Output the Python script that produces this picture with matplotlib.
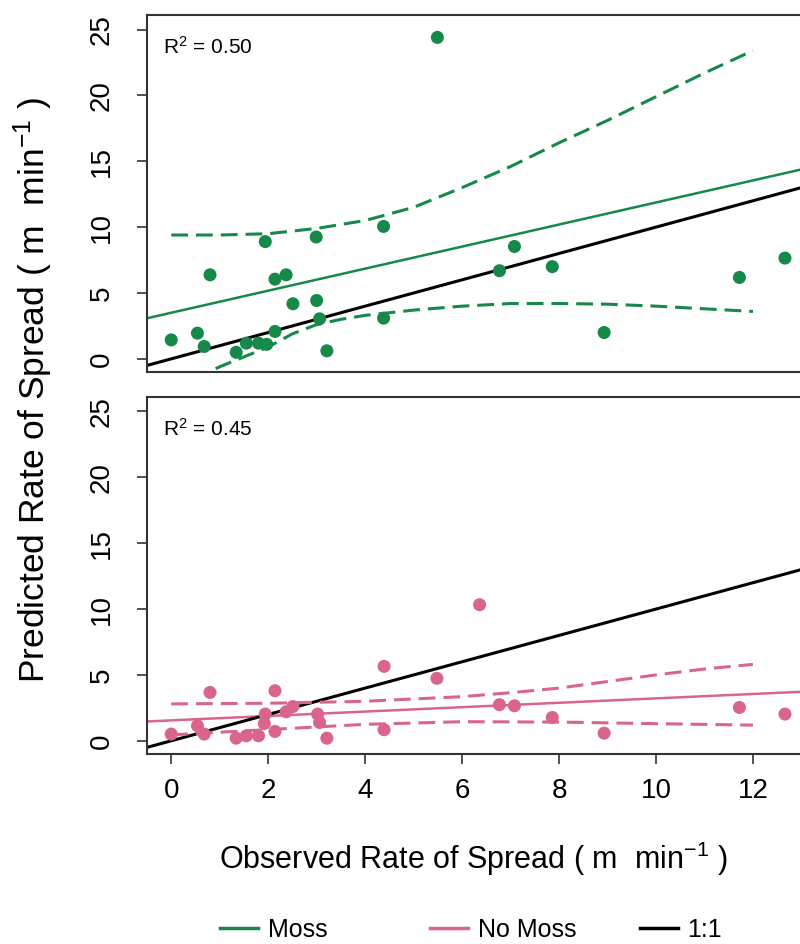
import matplotlib
matplotlib.use("Agg")
import matplotlib.pyplot as plt
from matplotlib.lines import Line2D

plt.rcParams['font.family'] = ['Liberation Sans', 'DejaVu Sans']
plt.rcParams['mathtext.fontset'] = 'custom'
plt.rcParams['mathtext.rm'] = 'Liberation Sans'
plt.rcParams['mathtext.default'] = 'regular'

# observed vs predicted rate of spread
moss_x = [0.00, 0.54, 0.68, 0.80, 1.34, 1.55, 1.80, 1.94, 1.97, 2.14, 2.14, 2.37, 2.51,
          2.99, 3.00, 3.06, 3.21, 4.38, 4.38, 5.49, 6.77, 7.08, 7.86, 8.93, 11.72, 12.66]
moss_y = [1.44, 1.95, 0.94, 6.38, 0.50, 1.19, 1.19, 8.90, 1.10, 6.05, 2.08, 6.38, 4.18,
          9.25, 4.43, 3.04, 0.61, 10.05, 3.09, 24.4, 6.69, 8.53, 7.00, 2.00, 6.18, 7.65]

nomoss_x = [0.00, 0.54, 0.68, 0.80, 1.34, 1.55, 1.80, 1.92, 1.94, 2.14, 2.14, 2.37, 2.51,
            3.02, 3.06, 3.21, 4.39, 4.39, 5.48, 6.36, 6.77, 7.08, 7.86, 8.93, 11.72, 12.66]
nomoss_y = [0.51, 1.14, 0.51, 3.67, 0.20, 0.38, 0.38, 1.31, 2.03, 3.80, 0.71, 2.20, 2.60,
            2.03, 1.39, 0.20, 5.65, 0.84, 4.74, 10.33, 2.74, 2.66, 1.77, 0.58, 2.53, 2.03]

# fitted lines (intercept, slope)
moss_fit = (3.50, 0.837)
nomoss_fit = (1.55, 0.167)

# dashed interval curves
moss_hi_x = [0.0, 1.0, 2.0, 3.0, 4.0, 5.0, 6.0, 7.0, 8.0, 9.0, 10.0, 11.0, 12.0]
moss_hi_y = [9.4, 9.4, 9.5, 9.9, 10.5, 11.5, 13.0, 14.6, 16.4, 18.1, 19.9, 21.7, 23.4]
moss_lo_x = [0.0, 1.0, 2.0, 2.5, 3.0, 3.5, 4.0, 5.0, 6.0, 7.0, 8.0, 9.0, 10.0, 11.0, 12.0]
moss_lo_y = [-2.4, -0.6, 0.9, 1.9, 2.6, 3.0, 3.3, 3.7, 4.0, 4.2, 4.2, 4.15, 4.0, 3.8, 3.6]

nomoss_hi_x = [0.0, 2.0, 4.0, 6.0, 7.0, 8.0, 9.0, 10.0, 11.0, 12.0]
nomoss_hi_y = [2.8, 2.85, 3.0, 3.35, 3.65, 4.0, 4.5, 5.0, 5.45, 5.8]
nomoss_lo_x = [0.0, 2.0, 4.0, 6.0, 8.0, 10.0, 12.0]
nomoss_lo_y = [0.45, 0.85, 1.25, 1.45, 1.42, 1.3, 1.19]

r2_labels = ['R$^2$ = 0.50', 'R$^2$ = 0.45']

green = '#16894a'
pink = '#d9658f'
dash = (0, (5.5, 2.6))

fig = plt.figure(figsize=(8, 9.44), dpi=100)
ax1 = fig.add_axes([0.18375, 0.6059, 0.81625, 0.3782])
ax2 = fig.add_axes([0.18375, 0.2013, 0.81625, 0.3782])

panels = [
    (ax1, moss_x, moss_y, moss_fit, moss_hi_x, moss_hi_y, moss_lo_x, moss_lo_y, green, r2_labels[0]),
    (ax2, nomoss_x, nomoss_y, nomoss_fit, nomoss_hi_x, nomoss_hi_y, nomoss_lo_x, nomoss_lo_y, pink, r2_labels[1]),
]

for ax, x, y, fit, hx, hy, lx, ly, col, r2 in panels:
    ax.axline((0, fit[0]), slope=fit[1], color=col, lw=1.8, zorder=2)
    ax.axline((0, 0), slope=1, color='black', lw=2.2, zorder=2)
    ax.plot(hx, hy, color=col, lw=2.2, ls=dash, zorder=2)
    ax.plot(lx, ly, color=col, lw=2.2, ls=dash, zorder=2)
    ax.scatter(x, y, s=88, color=col, edgecolors='none', zorder=3)
    ax.set_xlim(-0.5, 12.97)
    ax.set_ylim(-1, 26.1)
    ax.set_yticks([0, 5, 10, 15, 20, 25])
    ax.tick_params(axis='y', labelsize=20, length=7, width=1.2, pad=16,
                   labelrotation=90, color='#333333')
    for lab in ax.get_yticklabels():
        lab.set_va('center')
    for s in ['left', 'top', 'bottom']:
        ax.spines[s].set_linewidth(1.5)
        ax.spines[s].set_color('#333333')
    ax.spines['right'].set_visible(False)
    ax.text(0.025, 0.91, r2, transform=ax.transAxes, fontsize=15, va='center', ha='left')

ax1.tick_params(axis='x', bottom=False, labelbottom=False)
ax2.set_xticks([0, 2, 4, 6, 8, 10, 12])
ax2.tick_params(axis='x', labelsize=20, length=7, width=1.2, pad=10, color='#333333')

ax2.set_xlabel('Observed Rate of Spread ( m  min$^{-1}$ )', fontsize=22, labelpad=26)
fig.text(0.042, 0.587, 'Predicted Rate of Spread ( m  min$^{-1}$ )', fontsize=25.5,
         rotation=90, ha='center', va='center')

legend_items = [('Moss', green, 0.275), ('No Moss', pink, 0.538), ('1:1', 'black', 0.8)]
for name, col, xpos in legend_items:
    h = Line2D([], [], color=col, lw=2.5)
    fig.legend(handles=[h], labels=[name], loc='center left', bbox_to_anchor=(xpos, 0.0148),
               frameon=False, fontsize=18, handlelength=1.5, handletextpad=0.4,
               borderpad=0, borderaxespad=0)

fig.savefig('out.png', dpi=100)
